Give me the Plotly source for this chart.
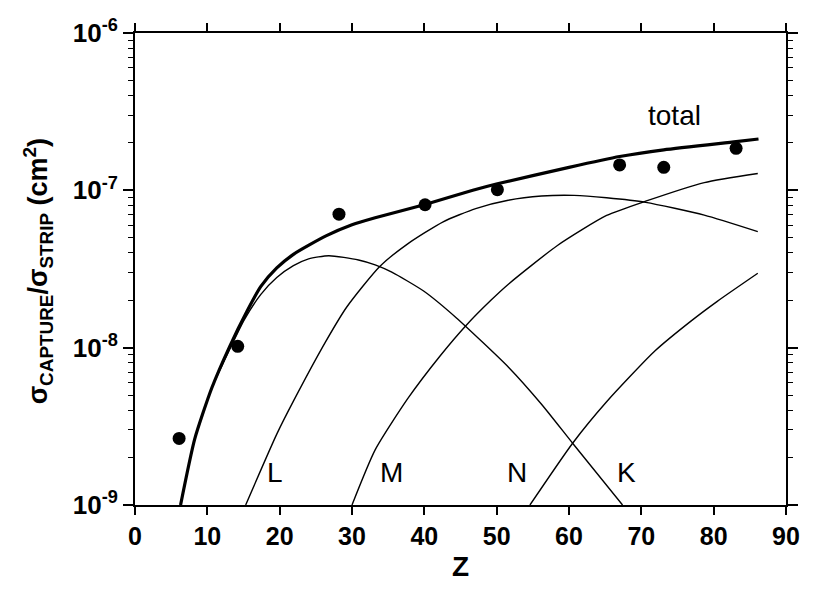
import math
import plotly.graph_objects as go

# ---- data ----
data_z = [6.1, 14.2, 28.2, 40.1, 50.1, 67.0, 73.1, 83.1]
data_val = [2.65e-9, 1.02e-8, 7.05e-8, 8.1e-8, 1.01e-7, 1.45e-7, 1.40e-7, 1.85e-7]

total_z = [6.3, 8.26, 10.6, 13.1, 15.5, 17.4, 19.6, 21.9, 26.4, 30.0, 33.2, 40.1, 46.7, 50.1, 60.0,
           67.0, 73.1, 83.1, 86.2]
total_val = [1.0e-9, 2.63e-9, 5.52e-9, 1.02e-8, 1.71e-8, 2.45e-8, 3.21e-8, 3.92e-8, 5.13e-8, 6.04e-8,
             6.70e-8, 8.13e-8, 1.0e-7, 1.10e-7, 1.40e-7, 1.64e-7, 1.81e-7, 2.04e-7, 2.12e-7]

k_z = [6.3, 8.26, 10.6, 13.1, 15.1, 17.4, 19.6, 21.9, 24.0, 26.8, 30.9, 33.2, 35.5, 39.9, 44.4, 51.7,
       56.2, 60.5, 67.4]
k_val = [1.0e-9, 2.63e-9, 5.52e-9, 9.77e-9, 1.50e-8, 2.18e-8, 2.79e-8, 3.32e-8, 3.67e-8, 3.84e-8,
         3.61e-8, 3.36e-8, 3.02e-8, 2.29e-8, 1.55e-8, 7.46e-9, 4.37e-9, 2.47e-9, 1.0e-9]

l_z = [15.3, 19.6, 21.9, 26.4, 29.3, 33.8, 37.7, 42.6, 47.1, 51.6, 56.2, 60.7, 65.2, 70.6, 78.7, 86.1]
l_val = [1.0e-9, 2.82e-9, 4.57e-9, 1.10e-8, 1.82e-8, 3.27e-8, 4.57e-8, 6.31e-8, 7.66e-8, 8.65e-8,
         9.20e-8, 9.29e-8, 8.97e-8, 8.39e-8, 6.95e-8, 5.46e-8]

m_z = [30.0, 33.2, 37.7, 42.2, 45.8, 49.2, 51.7, 58.4, 65.2, 70.6, 78.7, 86.1]
m_val = [1.0e-9, 2.24e-9, 4.74e-9, 8.89e-9, 1.39e-8, 2.00e-8, 2.55e-8, 4.46e-8, 6.92e-8, 8.53e-8,
         1.12e-7, 1.28e-7]

n_z = [54.6, 60.5, 65.2, 71.9, 76.9, 80.5, 86.1]
n_val = [1.0e-9, 2.47e-9, 4.53e-9, 9.55e-9, 1.48e-8, 1.97e-8, 2.97e-8]

x_ticks = [0, 10, 20, 30, 40, 50, 60, 70, 80, 90]
y_ticks = [1e-9, 1e-8, 1e-7, 1e-6]
y_ticktext = ["10<sup>-9</sup>", "10<sup>-8</sup>", "10<sup>-7</sup>", "10<sup>-6</sup>"]

FONT = "Liberation Sans, Arial, Helvetica, sans-serif"

fig = go.Figure()

thin = dict(color="black", width=1.4, shape="spline", smoothing=0.6)
for zz, vv in [(k_z, k_val), (l_z, l_val), (m_z, m_val), (n_z, n_val)]:
    fig.add_trace(go.Scatter(x=zz, y=vv, mode="lines", line=thin, showlegend=False, hoverinfo="skip"))

fig.add_trace(go.Scatter(x=total_z, y=total_val, mode="lines",
                         line=dict(color="black", width=3.2, shape="spline", smoothing=0.6),
                         showlegend=False))
fig.add_trace(go.Scatter(x=data_z, y=data_val, mode="markers",
                         marker=dict(color="black", size=13), showlegend=False))

minor_vals = [m * 10.0 ** e for e in (-9, -8, -7) for m in range(2, 10)]

fig.update_xaxes(range=[0, 90], tickvals=x_ticks, ticks="outside", ticklen=8, tickwidth=1.5,
                 tickcolor="black", showline=True, linecolor="black", linewidth=2, mirror="ticks",
                 showgrid=False, zeroline=False,
                 tickfont=dict(family=FONT, size=25, color="black", weight="bold"))
fig.update_yaxes(type="log", range=[-9, -6], tickvals=y_ticks, ticktext=y_ticktext,
                 ticks="outside", ticklen=10, tickwidth=1.5, tickcolor="black",
                 showline=True, linecolor="black", linewidth=2, mirror="ticks",
                 showgrid=False, zeroline=False,
                 minor=dict(tickvals=minor_vals, ticks="outside", ticklen=5, tickwidth=1.2,
                            tickcolor="black", showgrid=False),
                 tickfont=dict(family=FONT, size=26, color="black", weight="bold"))

ann_font = dict(family=FONT, size=28, color="black")
labels = [("total", 74.6, 3.0e-7), ("L", 19.4, 1.62e-9), ("M", 35.4, 1.62e-9),
          ("N", 52.8, 1.62e-9), ("K", 67.9, 1.62e-9)]
for txt, xx, yy in labels:
    fig.add_annotation(x=xx, y=math.log10(yy), xref="x", yref="y", text=txt, showarrow=False,
                       font=ann_font, xanchor="center", yanchor="middle")

fig.add_annotation(x=-0.149, y=0.495, xref="paper", yref="paper", textangle=-90,
                   text="σ<sub>CAPTURE</sub>/σ<sub>STRIP</sub> (cm<sup>2</sup>)", showarrow=False,
                   font=dict(family=FONT, size=27, color="black", weight="bold"),
                   xanchor="center", yanchor="middle")
fig.add_annotation(x=0.5, y=-0.13, xref="paper", yref="paper", text="Z", showarrow=False,
                   font=dict(family=FONT, size=28, color="black", weight="bold"),
                   xanchor="center", yanchor="middle")

# the page body has an 8px default margin: size the figure so the page is exactly 815x590
fig.update_layout(width=799, height=574, margin=dict(l=127, r=7, t=21, b=77),
                  paper_bgcolor="white", plot_bgcolor="white")

fig.write_html("out.html")
